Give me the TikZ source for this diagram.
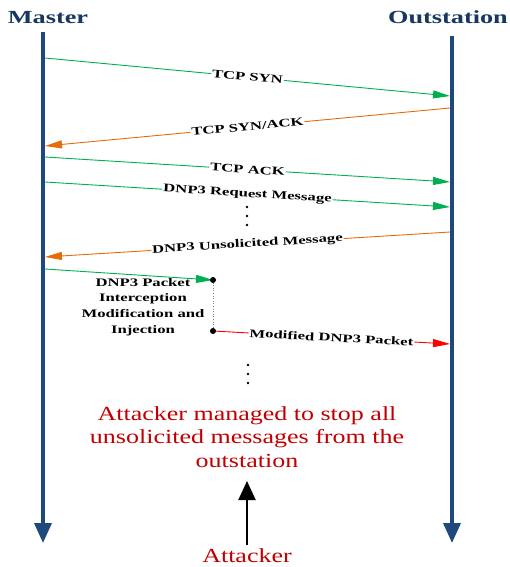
\documentclass[tikz,border=0pt]{standalone}
\usepackage{graphicx}
\usepackage{fontspec}
\setmainfont{Liberation Serif}
\usetikzlibrary{arrows.meta}
\definecolor{lifeblue}{RGB}{31,73,125}
\definecolor{titleblue}{RGB}{23,55,94}
\definecolor{msggreen}{RGB}{0,176,80}
\definecolor{msgorange}{RGB}{228,108,10}
\definecolor{attred}{RGB}{192,0,0}
\definecolor{modred}{RGB}{255,0,0}
\newcommand{\wlbl}[1]{\scalebox{1.45}[1]{#1}}
\newcommand{\wtitle}[1]{\scalebox{1.42}[1]{#1}}
\newcommand{\wred}[1]{\scalebox{1.3}[1]{#1}}
\begin{document}
\begin{tikzpicture}[x=1pt,y=-1pt,
  lifeline/.style={draw=lifeblue, line width=3.6pt, -{Triangle[length=20pt,width=17pt]}},
  msg/.style={line width=0.9pt, -{Triangle[length=17pt,width=8pt]}},
  msglbl/.style={sloped, fill=white, text=black, inner sep=1pt, font=\fontsize{11.5}{13}\selectfont\bfseries},
  titlelbl/.style={font=\fontsize{18.5}{22}\selectfont\bfseries, text=titleblue, inner sep=0pt},
  redtext/.style={font=\fontsize{20}{23.5}\selectfont, text=attred, align=center},
  notetext/.style={font=\fontsize{11.5}{15.7}\selectfont\bfseries, align=center, inner sep=0pt},
  blackdot/.style={fill=black},
]
\useasboundingbox (0,0) rectangle (509,567);

% titles
\node[titlelbl, anchor=base] (master) at (48,24) {\wtitle{Master}};
\node[titlelbl, anchor=base] (outst) at (448,24) {\wtitle{Outstation}};

% lifelines
\coordinate (mtop) at (43,32);
\coordinate (mbot) at (43,543);
\coordinate (otop) at (452,36);
\coordinate (obot) at (452,543);
\draw[lifeline] (mtop) -- (mbot);
\draw[lifeline] (otop) -- (obot);

% message end points
\coordinate (m1) at (45,58);   \coordinate (o1) at (450,96);
\coordinate (o2) at (450,108); \coordinate (m2) at (45,146);
\coordinate (m3) at (45,157);  \coordinate (o3) at (450,182);
\coordinate (m4) at (45,182);  \coordinate (o4) at (450,207);
\coordinate (o5) at (450,232); \coordinate (m5) at (45,257);
\coordinate (m6) at (45,269);
\coordinate (d1) at (213,280);
\coordinate (d2) at (213,331);
\coordinate (o7) at (450,344);

\draw[msg, msggreen] (m1) -- node[msglbl]{\wlbl{TCP SYN}} (o1);
\draw[msg, msgorange] (o2) -- node[msglbl]{\wlbl{TCP SYN/ACK}} (m2);
\draw[msg, msggreen] (m3) -- node[msglbl]{\wlbl{TCP ACK}} (o3);
\draw[msg, msggreen] (m4) -- node[msglbl]{\wlbl{DNP3 Request Message}} (o4);
\draw[msg, msgorange] (o5) -- node[msglbl]{\wlbl{DNP3 Unsolicited Message}} (m5);

% ellipsis dots
\foreach \yy in {207,216,225} \fill (247,\yy) circle (1.3pt);
\foreach \yy in {365,374,383} \fill (248,\yy) circle (1.3pt);

% interception
\draw[msg, msggreen] (m6) -- (d1);
\draw[gray, dotted, line width=0.6pt] (d1) -- (d2);
\draw[msg, modred] (d2) -- node[msglbl]{\wlbl{Modified DNP3 Packet}} (o7);
\fill[blackdot] (d1) circle (3pt);
\fill[blackdot] (d2) circle (3pt);
\node[notetext] (note) at (143,307) {\wlbl{DNP3 Packet}\\\wlbl{Interception}\\\wlbl{Modification and}\\\wlbl{Injection}};

% outcome and attacker
\node[redtext] (outcome) at (247,437) {\wred{Attacker managed to stop all}\\\wred{unsolicited messages from the}\\\wred{outstation}};
\node[redtext, anchor=base] (attacker) at (247,562) {\wred{Attacker}};
\coordinate (atip) at (247,481);
\draw[line width=2pt, -{Triangle[length=19pt,width=17pt]}] (attacker.north) -- (atip);
\end{tikzpicture}
\end{document}
